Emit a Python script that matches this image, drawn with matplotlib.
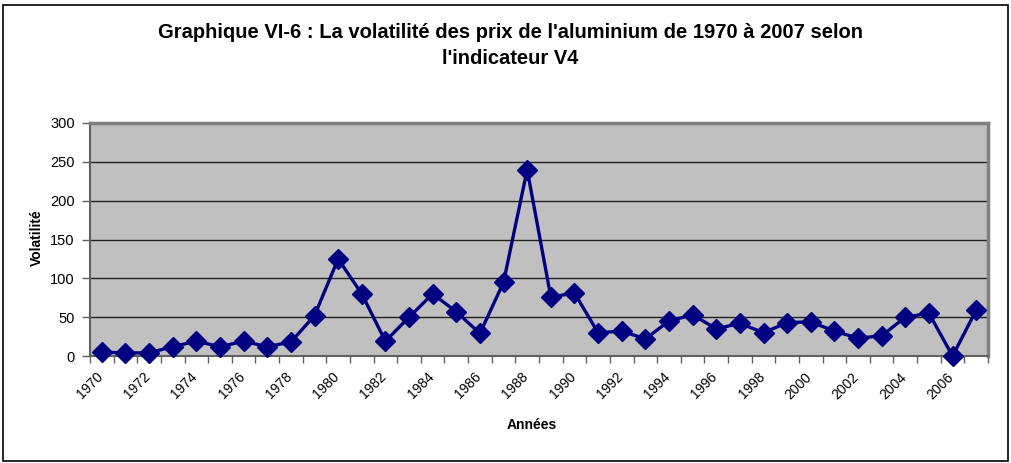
import numpy as np
import matplotlib.pyplot as plt
import matplotlib.transforms as mtransforms
from matplotlib.patches import Rectangle

plt.rcParams['font.family'] = ['Liberation Sans', 'DejaVu Sans']

years = list(range(1970, 2008))
volatility = [5, 4, 4, 12, 19, 12, 19, 12, 18, 52,
              125, 80, 19, 50, 80, 57, 29, 95, 240, 76,
              81, 30, 32, 22, 45, 53, 35, 42, 30, 43,
              44, 32, 23, 26, 50, 55, 0, 59]
tick_labels = [str(y) for y in years[::2]]

fig = plt.figure(figsize=(10.11, 4.63), dpi=100)
ax = fig.add_axes([90 / 1011, 1 - 356 / 463, 898 / 1011, 233 / 463])

x = np.arange(len(years))
ax.plot(x, volatility, color='#000080', lw=2.4, marker='D', markersize=10,
        markerfacecolor='#000080', markeredgecolor='#000080', clip_on=False, zorder=3)

ax.set_facecolor('#C0C0C0')
ax.set_xlim(-0.5, len(years) - 0.5)
ax.set_ylim(0, 300)
ax.set_yticks(np.arange(0, 301, 50))
ax.grid(axis='y', color='#202020', lw=1)
ax.set_axisbelow(True)

# category boundaries as minor ticks, labels on every second category
ax.set_xticks(np.arange(-0.5, len(years), 1), minor=True)
ax.set_xticks(x[::2])
ax.set_xticklabels(tick_labels, rotation=45, ha='right', rotation_mode='anchor')
ax.tick_params(axis='x', which='major', length=0, pad=10, labelsize=10)
ax.tick_params(axis='x', which='minor', length=5, width=1, color='#606060')
ax.tick_params(axis='y', length=6, width=1, color='#606060', labelsize=10.5, pad=5)
shift = mtransforms.ScaledTranslation(-6 / 100, 0, fig.dpi_scale_trans)
for lab in ax.get_xticklabels():
    lab.set_transform(lab.get_transform() + shift)

for side in ['top', 'right']:
    ax.spines[side].set_color('#808080')
    ax.spines[side].set_linewidth(2.5)
for side in ['left', 'bottom']:
    ax.spines[side].set_color('#606060')
    ax.spines[side].set_linewidth(1.5)

fig.text(37 / 1011, 1 - 238 / 463, 'Volatilité', rotation=90, ha='center', va='center',
         fontsize=10, fontweight='bold')
fig.text(532 / 1011, 1 - 425 / 463, 'Années', ha='center', va='center',
         fontsize=10, fontweight='bold')

fig.text(0.505, 1 - 32 / 463, "Graphique VI-6 : La volatilité des prix de l'aluminium de 1970 à 2007 selon",
         ha='center', va='center', fontsize=14.5, fontweight='bold')
fig.text(0.505, 1 - 58 / 463, "l'indicateur V4",
         ha='center', va='center', fontsize=14.5, fontweight='bold')

fig.patches.append(Rectangle((3 / 1011, 2 / 463), 1005 / 1011, 456 / 463,
                             transform=fig.transFigure, fill=False,
                             edgecolor='black', lw=1.2))

fig.savefig('out.png', dpi=100)
